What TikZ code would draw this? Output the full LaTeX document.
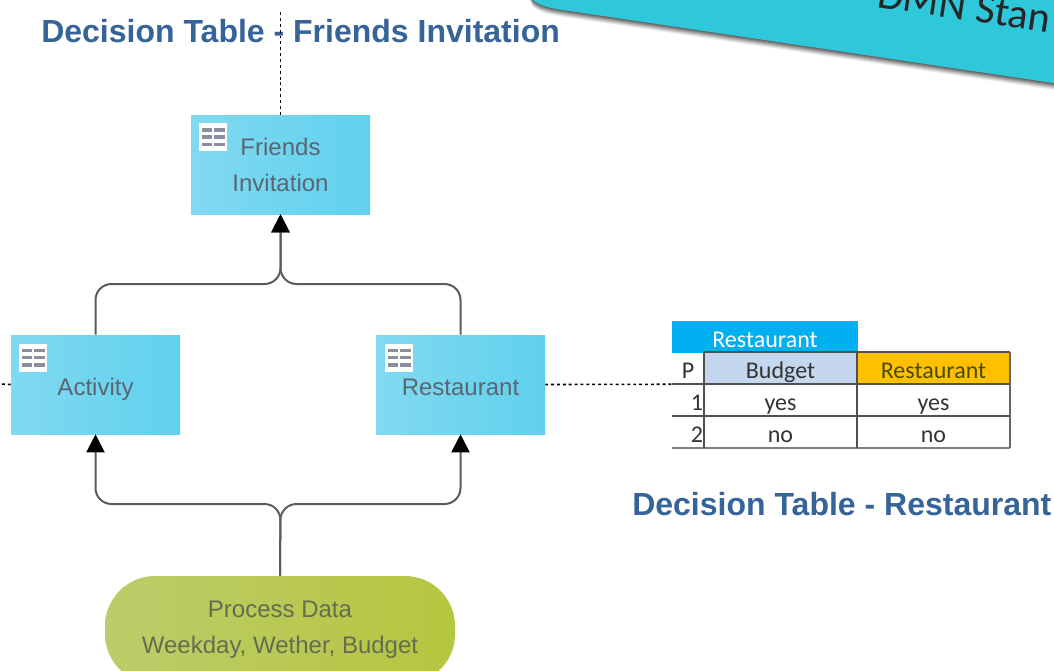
\documentclass[tikz,border=0pt]{standalone}
\usepackage{fontspec}
\setmainfont{Liberation Sans}
\newfontfamily\tablefont{Carlito}
\usetikzlibrary{arrows.meta}
\definecolor{boxtext}{HTML}{5A6672}
\definecolor{greentext}{HTML}{666C50}
\definecolor{titleblue}{HTML}{366499}
\definecolor{callout}{HTML}{2FC7DA}
\definecolor{linegray}{HTML}{5C5C5C}
\definecolor{cellline}{HTML}{505050}
\definecolor{boxleft}{HTML}{82D9F1}
\definecolor{boxright}{HTML}{5FD1EE}
\definecolor{pillleft}{HTML}{BDCC6A}
\definecolor{pillright}{HTML}{B5C63F}
\definecolor{iconbar}{HTML}{8A8F9F}
\definecolor{headblue}{RGB}{0,176,240}
\definecolor{budgetblue}{RGB}{197,215,238}
\definecolor{resultgold}{RGB}{255,192,0}
\definecolor{resulttext}{HTML}{4A4A10}
\tikzset{
  x=0.75pt,y=-0.75pt,
  decision/.style={rectangle,inner sep=0pt,minimum width=#1*0.75pt,minimum height=99*0.75pt,
    left color=boxleft,middle color=boxright,right color=boxright,text=boxtext,align=center,
    font=\fontsize{18}{27}\selectfont},
  oneline/.style={text height=16pt,text depth=0pt},
  datapill/.style={rectangle,rounded corners=37.5pt,inner sep=0pt,minimum width=262.5pt,minimum height=81pt,
    left color=pillleft,middle color=pillright,right color=pillright,text=greentext,align=center,
    font=\fontsize{18}{27}\selectfont},
  flow/.style={draw=linegray,line width=1.5pt,rounded corners=12pt,-{Triangle[black,width=13.5pt,length=13.5pt]}},
  assoc/.style={draw=black,line width=1.2pt,dash pattern=on 2.2pt off 2.2pt},
  heading/.style={text=titleblue,font=\bfseries\fontsize{24}{28}\selectfont,inner sep=0pt},
  cell/.style={rectangle,inner sep=0pt,minimum width=#1*0.75pt,minimum height=24pt,
    text height=15pt,text depth=0pt,
    font=\tablefont\fontsize{18}{20}\selectfont,text=black!80},
  cell/.default=153,
  ruleline/.style={draw=cellline,line width=1.3pt},
}
\newcommand{\tableicon}[2]{%
  \fill[white] (#1,#2) rectangle ++(28,28);
  \foreach \ry in {5,12,19.5}{
    \fill[iconbar] (#1+3,#2+\ry) rectangle ++(9.5,3.8);
    \fill[iconbar] (#1+14.5,#2+\ry) rectangle ++(11,3.8);
  }%
}
\begin{document}
\begin{tikzpicture}
\useasboundingbox (0,0) rectangle (1054,671);
\clip (0,0) rectangle (1054,671);
\fill[white] (0,0) rectangle (1054,671);

% callout with soft shadow
\foreach \s/\o in {7/0.06,6/0.08,5/0.10,4/0.12,3/0.14,2/0.16,1/0.18}{
  \fill[black,opacity=\o] (520,-20) -- (533,\s) .. controls (540,6+\s) and (550,8+\s) .. (563,10+\s) -- (1060,84+\s) -- (1060,-20) -- cycle;
}
\fill[callout] (520,-20) -- (533,0) .. controls (540,6) and (550,8) .. (563,10) -- (1060,84) -- (1060,-20) -- cycle;
\node[rotate=-8.5,anchor=base west,inner sep=0pt,text=black!85,font=\tablefont\fontsize{31.7}{34}\selectfont] (callouttext) at (876,7) {DMN Stan};

% decisions
\node[decision=179] (friends) at (280.5,164.5) {\raisebox{-0.75pt}{Friends}\\\raisebox{-0.75pt}{Invitation}};
\node[decision=169,oneline] (activity) at (95.5,384.5) {Activity};
\node[decision=169,oneline] (restaurant) at (460.5,384.5) {Restaurant};
\node[datapill] (data) at (280,630) {Process Data\\Weekday, Wether, Budget};
\tableicon{199}{123}
\tableicon{19}{343.5}
\tableicon{385}{343.5}

% table
\node[cell=186,fill=headblue,text=white] (thead) at (765,337) {Restaurant};
\node[cell=32] (tp) at (688,368) {P};
\node[cell,fill=budgetblue] (tbudget) at (780.5,368) {Budget};
\node[cell,fill=resultgold,text=resulttext] (tresult) at (933.5,368) {Restaurant};
\node[cell=32,text width=30*0.75pt,align=right] (tn1) at (688,400) {1};
\node[cell] (tb1) at (780.5,400) {yes};
\node[cell] (tr1) at (933.5,400) {yes};
\node[cell=32,text width=30*0.75pt,align=right] (tn2) at (688,432) {2};
\node[cell] (tb2) at (780.5,432) {no};
\node[cell] (tr2) at (933.5,432) {no};
\draw[ruleline] (tbudget.north west) -- (tresult.north east);
\draw[ruleline] (tp.south west) -- (tresult.south east);
\draw[ruleline] (tn1.south west) -- (tr1.south east);
\draw[ruleline,draw=gray] (tn2.south west) -- (tr2.south east);
\draw[ruleline] (tbudget.north west) -- (tb2.south west);
\draw[ruleline] (tresult.north west) -- (tr2.south west);
\draw[ruleline,draw=gray!80!black] (tresult.north east) -- (tr2.south east);

% headings
\node[heading,anchor=west] (title1) at (41,31) {Decision Table - Friends Invitation};
\node[heading,anchor=west] (title2) at (632,504) {Decision Table - Restaurant};

% connectors
\coordinate (topend) at (280.5,10);
\coordinate (leftend) at (0,384);
\coordinate (upjoin) at (280.5,284);
\coordinate (lowjoin) at (280.5,504);
\draw[assoc] (friends.north) -- (topend);
\draw[assoc] (activity.west) -- (leftend);
\draw[assoc] (restaurant.east) -- (tp.south west);
\draw[flow] (activity.north) -- (activity.north |- upjoin) -- (upjoin) -- (friends.south);
\draw[flow] (restaurant.north) -- (restaurant.north |- upjoin) -- (upjoin) -- (friends.south);
\draw[flow] (data.north) -- (lowjoin) -- (activity.south |- lowjoin) -- (activity.south);
\draw[flow] (data.north) -- (lowjoin) -- (restaurant.south |- lowjoin) -- (restaurant.south);
\end{tikzpicture}
\end{document}
